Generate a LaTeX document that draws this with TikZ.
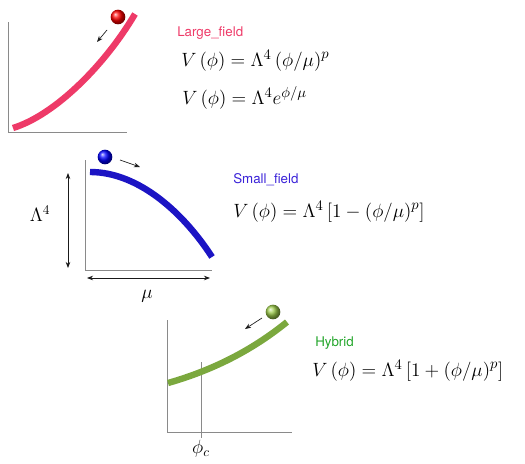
\documentclass[tikz,border=0pt]{standalone}
\usepackage{amsmath,amssymb}
\usepackage{fontspec}
\setsansfont{TeX Gyre Heros}
\usepackage{tikz}
\usetikzlibrary{arrows.meta,positioning,calc,shadings}
\definecolor{ink}{HTML}{1A1A1A}
\definecolor{axisgray}{HTML}{8A8A8A}
\definecolor{largepink}{HTML}{EE3A68}
\definecolor{smallblue}{HTML}{1C14C4}
\definecolor{smalltxt}{HTML}{3A22D8}
\definecolor{hybgreen}{HTML}{7BA83E}
\definecolor{hybball}{HTML}{9CCB4A}
\definecolor{hybtxt}{HTML}{22A52A}
\tikzset{
  >={Stealth[length=1.6mm,width=1.2mm]},
  axis/.style={draw=axisgray, line width=.7pt},
  potential/.style={line width=4.8pt},
  roll/.style={->, line width=.5pt, color=ink},
  span/.style={<->, line width=.6pt, color=ink},
  ball/.style={circle, minimum size=11pt, inner sep=0pt},
  tag/.style={anchor=west, inner sep=0pt, font=\sffamily},
  formula/.style={anchor=west, inner sep=0pt, font=\fontsize{15.8}{19}\selectfont},
  axlabel/.style={font=\fontsize{14}{16}\selectfont}
}
\begin{document}
\begin{tikzpicture}[x=.75pt,y=-.75pt]
  \useasboundingbox (0,0) rectangle (525,464);

  % large field
  \draw[axis] (8,22) -- (8,132) -- (127,132);
  \draw[potential,largepink] (13,128) .. controls (55,115) and (105,65) .. (135,14);
  \node[ball,ball color=red] (lball) at (118,17) {};
  \coordinate (lfrom) at (107,30);
  \coordinate (lto) at (97,42);
  \draw[roll] (lfrom) -- (lto);
  \node[tag,text=largepink] (ltag) at (177,33) {Large\_field};
  \node[formula,font=\fontsize{15.4}{18}\selectfont] (lpot) at (181,61)
    {$V\left(\phi\right)=\Lambda^4\left(\phi/\mu\right)^p$};
  \node[formula,font=\fontsize{15.4}{18}\selectfont] (lexp) at (182,98)
    {$V\left(\phi\right)=\Lambda^4e^{\phi/\mu}$};

  % small field
  \draw[axis] (85,160) -- (85,270) -- (212,270);
  \draw[potential,smallblue] (90,172) .. controls (140,172) and (185,215) .. (212,257);
  \node[ball,ball color=blue] (sball) at (105,157) {};
  \coordinate (sfrom) at (120,160);
  \coordinate (sto) at (140,167);
  \draw[roll] (sfrom) -- (sto);
  \coordinate (htop) at (68,173);
  \coordinate (hbot) at (68,268);
  \draw[span] (htop) -- (hbot);
  \coordinate (wleft) at (87,278);
  \coordinate (wright) at (210,278);
  \draw[span] (wleft) -- (wright);
  \node[axlabel] (height) at (40,214) {$\Lambda^4$};
  \node[axlabel] (width) at (147,296) {$\mu$};
  \node[tag,text=smalltxt] (stag) at (233,180) {Small\_field};
  \node[formula] (spot) at (233,212) {$V\left(\phi\right)=\Lambda^4\left[1-\left(\phi/\mu\right)^p\right]$};

  % hybrid
  \draw[axis] (167,320) -- (167,432) -- (292,432);
  \draw[axis] (201,362) -- (201,438);
  \draw[potential,hybgreen] (168,383) .. controls (210,371) and (250,352) .. (287,322);
  \node[ball,ball color=hybball] (hball) at (273,312) {};
  \coordinate (hfrom) at (262,318);
  \coordinate (hto) at (245,329);
  \draw[roll] (hfrom) -- (hto);
  \node[axlabel] (crit) at (201,449) {$\phi_c$};
  \node[tag,text=hybtxt] (htag) at (315,343) {Hybrid};
  \node[formula] (hpot) at (312,371) {$V\left(\phi\right)=\Lambda^4\left[1+\left(\phi/\mu\right)^p\right]$};
\end{tikzpicture}
\end{document}
